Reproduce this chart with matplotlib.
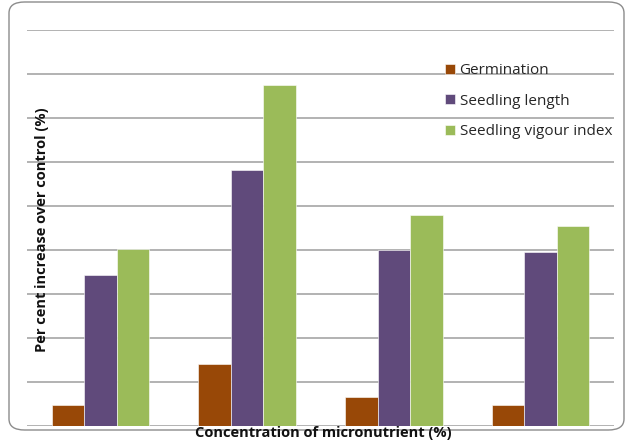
import numpy as np
import matplotlib.pyplot as plt
from matplotlib.patches import FancyBboxPatch

# values (gridline = 1 unit)
groups = ['1', '2', '3', '4']
germination = [0.48, 1.42, 0.66, 0.47]
seedling_length = [3.43, 5.82, 4.0, 3.96]
vigour_index = [4.02, 7.75, 4.8, 4.55]

series = [('Germination', germination, '#984807'),
          ('Seedling length', seedling_length, '#604A7B'),
          ('Seedling vigour index', vigour_index, '#9BBB59')]

plt.rcParams['font.family'] = ['Open Sans', 'DejaVu Sans']

fig = plt.figure(figsize=(6.26, 4.41), dpi=100)
W, H = 626, 441

# rounded chart border
border = FancyBboxPatch((9 / W, 11 / H), 615 / W, 428 / H,
                        boxstyle='round,pad=0,rounding_size=0.025',
                        transform=fig.transFigure, facecolor='none',
                        edgecolor='#8c8c8c', linewidth=1.0)
fig.patches.append(border)

ax = fig.add_axes([27 / W, 1 - 426 / H, 587 / W, 396 / H])

x = np.arange(len(groups))
w = 0.222
for i, (name, vals, col) in enumerate(series):
    ax.bar(x + (i - 1) * w, vals, width=w, color=col, label=name,
           edgecolor='white', linewidth=0.4, zorder=3)

ax.set_xlim(-0.5, 3.5)
ax.set_ylim(0, 9)
ax.set_yticks(np.arange(0, 10))
ax.grid(axis='y', color='#a6a6a6', linewidth=1.2, zorder=0)
ax.tick_params(left=False, bottom=False, labelleft=False, labelbottom=False)
for s in ax.spines.values():
    s.set_visible(False)

leg = ax.legend(loc='upper left', bbox_to_anchor=(412 / 587, 1 - 27 / 396),
                frameon=False, fontsize=11, handlelength=0.65,
                handleheight=0.65, handletextpad=0.3, labelspacing=1.02,
                borderaxespad=0)
for t in leg.get_texts():
    t.set_color('#262626')

fig.text(42 / W, 1 - 230 / H, 'Per cent increase over control (%)',
         rotation=90, ha='center', va='center', fontsize=10.5,
         fontweight='bold', color='#111111')
fig.text(323 / W, 1 - 433 / H, 'Concentration of micronutrient (%)',
         ha='center', va='center', fontsize=10.5, fontweight='bold',
         color='#111111')

fig.savefig('out.png', dpi=100)
